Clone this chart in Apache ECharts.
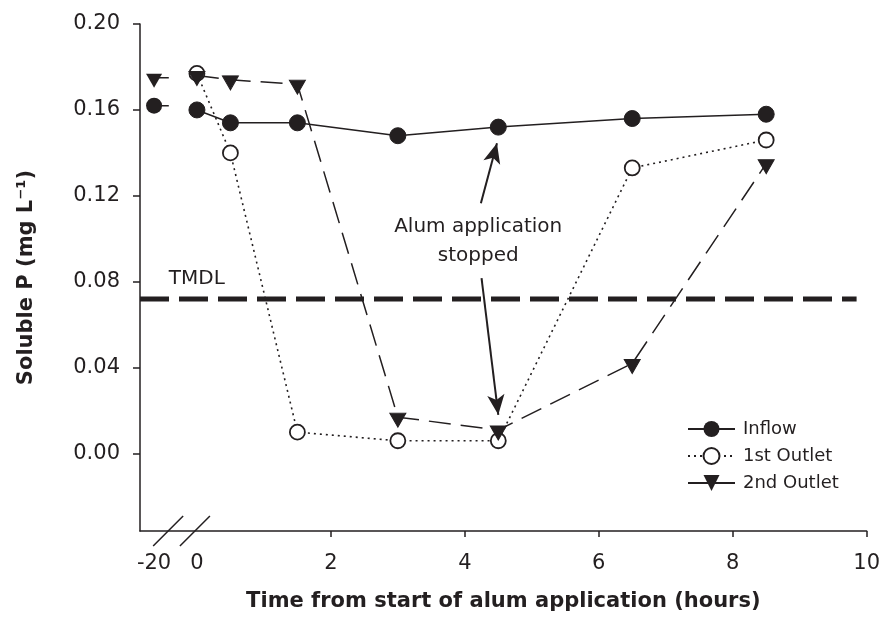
<!DOCTYPE html>
<html>
<head>
<meta charset="utf-8">
<script src="https://cdn.jsdelivr.net/npm/echarts@6/dist/echarts.min.js"></script>
<style>
html,body{margin:0;padding:0;background:#fff;}
#chart{width:883px;height:624px;}
</style>
</head>
<body>
<div id="chart"></div>
<script>
// ---- data ----
const hours = [-20, 0, 0.5, 1.5, 3, 4.5, 6.5, 8.5];
const inflow = [0.162, 0.160, 0.154, 0.154, 0.148, 0.152, 0.156, 0.158];
const outlet1 = [null, 0.177, 0.140, 0.010, 0.006, 0.006, 0.133, 0.146];
const outlet2 = [0.175, 0.176, 0.174, 0.172, 0.017, 0.011, 0.042, 0.135];
const tmdl = 0.072;
const xTickLabels = ['-20', '0', '2', '4', '6', '8', '10'];
const yTicks = [0, 0.04, 0.08, 0.12, 0.16, 0.20];
const annotation = 'Alum application\nstopped';

// broken axis: -20 h is drawn just left of 0
const BREAK_POS = -0.64;   // where -20 h sits on the broken axis
const BREAK_X = -0.42;     // first break slash
const xPos = h => (h < -1 ? BREAK_POS : h);
const xLabelValues = [-20, 0, 2, 4, 6, 8, 10].map(xPos);

const INK = '#231f20';
const FONT = 'DejaVu Sans';

function pts(vals, from) {
  const out = [];
  hours.forEach((h, i) => {
    if (h >= from && vals[i] != null) out.push([xPos(h), vals[i]]);
  });
  return out;
}
function stub(vals) {
  const i = hours.indexOf(-20);
  return [[xPos(-20), vals[i]], {value: [BREAK_X, vals[i]], symbol: 'none'}];
}

const chart = echarts.init(document.getElementById('chart'), null, {renderer: 'canvas'});

const option = {
  animation: false,
  backgroundColor: '#fff',
  textStyle: {fontFamily: FONT, color: INK},
  grid: {left: 140, right: 16, top: 24, bottom: 93, containLabel: false},
  xAxis: {
    type: 'value', min: -0.85, max: 10,
    name: 'Time from start of alum application (hours)',
    nameLocation: 'middle', nameGap: 60,
    nameTextStyle: {fontFamily: FONT, fontWeight: 'bold', fontSize: 21, color: INK},
    axisLine: {show: true, onZero: false, lineStyle: {color: INK, width: 1.5}},
    axisTick: {show: true, length: 6, inside: false, customValues: [2, 4, 6, 8, 10], lineStyle: {color: INK, width: 1.5}},
    axisLabel: {
      show: true, margin: 22, fontSize: 21, fontFamily: FONT, color: INK,
      customValues: xLabelValues,
      formatter: v => xTickLabels[xLabelValues.indexOf(v)]
    },
    splitLine: {show: false}
  },
  yAxis: {
    type: 'value', min: -0.036, max: 0.20,
    name: 'Soluble P (mg L\u207B\u00B9)',
    nameLocation: 'middle', nameGap: 103, nameRotate: 90,
    nameTextStyle: {fontFamily: FONT, fontWeight: 'bold', fontSize: 21, color: INK},
    axisLine: {show: true, onZero: false, lineStyle: {color: INK, width: 1.5}},
    axisTick: {show: true, length: 7, customValues: yTicks, lineStyle: {color: INK, width: 1.5}},
    axisLabel: {
      show: true, margin: 20, fontSize: 21, fontFamily: FONT, color: INK,
      customValues: yTicks, formatter: v => v.toFixed(2)
    },
    splitLine: {show: false}
  },
  legend: {
    orient: 'vertical', left: 687, top: 419, itemGap: 7, padding: 0,
    itemWidth: 47, itemHeight: 20,
    textStyle: {fontFamily: FONT, fontSize: 18, lineHeight: 20, height: 20, color: INK, padding: [0, 0, 0, 3]},
    data: [
      {name: 'Inflow'},
      {name: '1st Outlet'},
      {name: '2nd Outlet', lineStyle: {type: 'solid'}}
    ]
  },
  series: [
    {
      name: 'TMDL', type: 'line', silent: true, symbol: 'none', z: 1,
      data: [[-0.85, tmdl], [9.85, tmdl]],
      lineStyle: {color: INK, width: 5, type: [29, 10]}
    },
    {
      name: 'Inflow', type: 'line', z: 5,
      data: pts(inflow, 0),
      symbol: 'circle', symbolSize: 16,
      itemStyle: {color: INK, borderColor: INK},
      lineStyle: {color: INK, width: 1.5, type: 'solid'}
    },
    {
      name: 'inflow-pre', type: 'line', z: 5,
      data: stub(inflow),
      symbol: 'circle', symbolSize: 16,
      itemStyle: {color: INK},
      lineStyle: {color: INK, width: 1.5}
    },
    {
      name: '1st Outlet', type: 'line', z: 4,
      data: pts(outlet1, 0),
      symbol: 'circle', symbolSize: 15,
      itemStyle: {color: '#fff', borderColor: INK, borderWidth: 1.8},
      lineStyle: {color: INK, width: 1.6, type: [2, 4]}
    },
    {
      name: '2nd Outlet', type: 'line', z: 6,
      data: pts(outlet2, 0),
      symbol: 'triangle', symbolRotate: 180, symbolSize: [16, 14], symbolOffset: [0, 3],
      itemStyle: {color: INK, borderColor: INK},
      lineStyle: {color: INK, width: 1.5, type: [22, 10]}
    },
    {
      name: 'outlet2-pre', type: 'line', z: 6,
      data: stub(outlet2),
      symbol: 'triangle', symbolRotate: 180, symbolSize: [16, 14], symbolOffset: [0, 3],
      itemStyle: {color: INK},
      lineStyle: {color: INK, width: 1.5}
    },
    {
      name: 'notes', type: 'scatter', silent: true, symbolSize: 0, z: 10,
      itemStyle: {opacity: 1},
      data: [
        {value: [4.20, 0.099], label: {show: true, position: 'inside', formatter: annotation,
          fontSize: 20, lineHeight: 29, fontFamily: FONT, color: INK, opacity: 1, align: 'center'}},
        {value: [-0.42, 0.0814], label: {show: true, position: 'right', distance: 0, formatter: 'TMDL',
          fontSize: 20, fontFamily: FONT, color: INK, opacity: 1}}
      ],
      markLine: {
        silent: true, animation: false,
        symbol: ['none', 'arrow'], symbolSize: [13, 20],
        label: {show: false},
        lineStyle: {color: INK, width: 2, type: 'solid', opacity: 1},
        emphasis: {disabled: true},
        data: [
          [{coord: [4.24, 0.1166]}, {coord: [4.48, 0.1445]}],
          [{coord: [4.25, 0.0817]}, {coord: [4.50, 0.0181]}]
        ]
      }
    }
  ]
};
chart.setOption(option);

// axis-break slashes, positioned through the axis scales
function drawBreaks() {
  const g = [];
  [-0.43, -0.03].forEach(v => {
    const p = chart.convertToPixel({gridIndex: 0}, [v, -0.036]);
    g.push({
      type: 'line', silent: true, z: 100,
      shape: {x1: p[0] - 15, y1: p[1] + 15, x2: p[0] + 15, y2: p[1] - 15},
      style: {stroke: INK, lineWidth: 1.5}
    });
  });
  chart.setOption({graphic: g});
}
drawBreaks();
</script>
</body>
</html>
